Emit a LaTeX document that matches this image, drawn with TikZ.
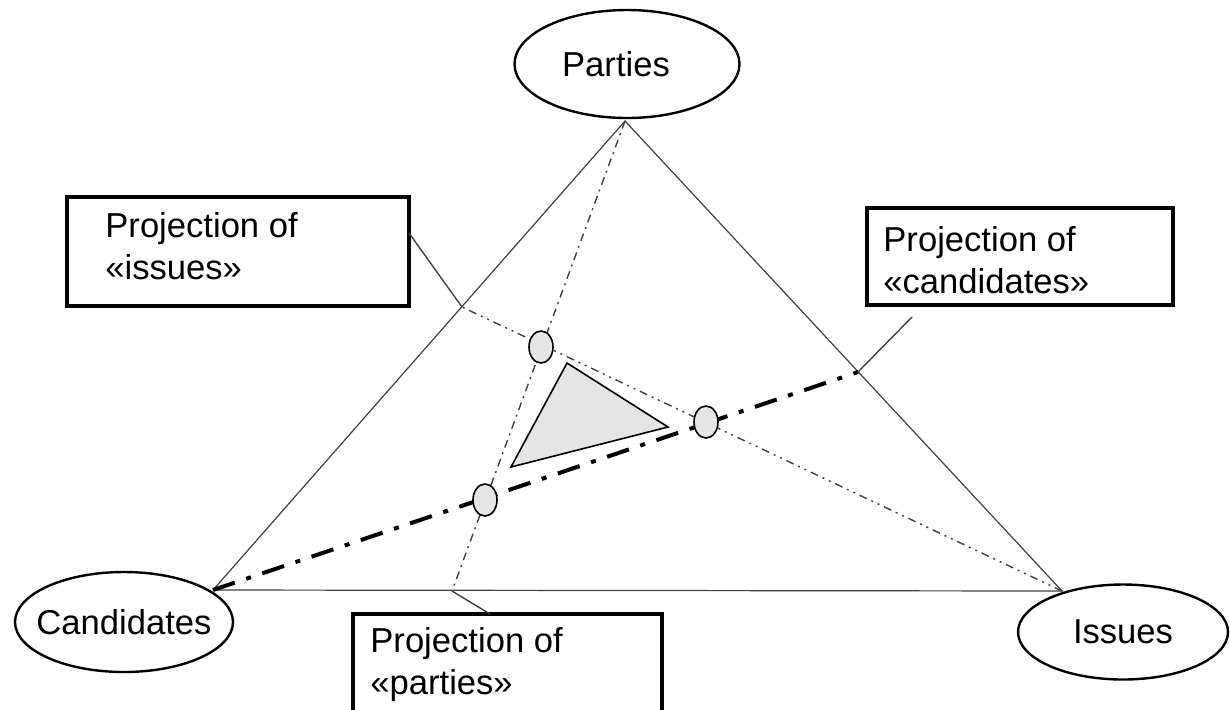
\documentclass[tikz,border=0pt]{standalone}
\usepackage{fontspec}
\setmainfont{Liberation Sans}
\usetikzlibrary{shapes.geometric}

\tikzset{
  actor/.style={ellipse, draw, line width=1.2pt, inner sep=-6pt, font=\fontsize{17.3}{21}\selectfont},
  projbox/.style={rectangle, draw, line width=1.6pt, inner sep=0pt},
  projtext/.style={anchor=north west, align=left, inner sep=0pt, font=\fontsize{17.3}{21}\selectfont},
  crossing/.style={ellipse, draw, line width=0.8pt, fill=gray!20, minimum width=12pt, minimum height=16pt, inner sep=0pt},
  edge/.style={black!75, line width=0.6pt},
  leader/.style={black!75, line width=0.7pt},
  projline/.style={black!75, line width=0.7pt, dash pattern=on 4pt off 2.5pt on 1pt off 2.5pt},
  projline2/.style={black!75, line width=0.7pt, dash pattern=on 4pt off 2.5pt on 1pt off 2.5pt on 1pt off 2.5pt},
  mainline/.style={black, line width=2pt, dash pattern=on 11.5pt off 6pt on 2.5pt off 6pt}
}

\begin{document}
\begin{tikzpicture}[x=0.5pt, y=-0.5pt]
  \useasboundingbox (0,0) rectangle (1230,709);
  \clip (0,0) rectangle (1230,709);

  % Ecken des Dreiecks
  \coordinate (ptop) at (625,121);
  \coordinate (pleft) at (213,590);
  \coordinate (pright) at (1062,591);

  % Fusspunkte der Projektionen
  \coordinate (footI) at (462,307);
  \coordinate (footC) at (858,372);
  \coordinate (footP) at (452,591);

  % Dreieck
  \draw[edge] (pleft) -- (ptop) -- (pright) -- (pleft);

  % Projektionslinien
  \draw[projline] (ptop) -- (footP);
  \draw[projline2] (pright) -- (footI);
  \draw[mainline] (pleft) -- (footC);

  % graues Dreieck
  \draw[fill=gray!20, line width=0.8pt] (567,363) -- (668,427) -- (511,467) -- cycle;

  % Schnittpunkte
  \node[crossing] (xa) at (541,347) {};
  \node[crossing] (xb) at (706,422) {};
  \node[crossing] (xc) at (485,500) {};

  % Ellipsen
  \node[actor, minimum width=112.5pt, minimum height=54pt] (parties) at (627,64) {Parties\kern11pt};
  \node[actor, minimum width=109pt, minimum height=50pt] (candidates) at (124,622) {Candidates};
  \node[actor, minimum width=105pt, minimum height=47.5pt] (issues) at (1123,632) {Issues};

  % Kaesten
  \node[projbox, minimum width=171pt, minimum height=54.5pt] (issuesbox) at (238,251.5) {};
  \node[projtext] (issuestext) at (105,212) {Projection of\\«issues»};
  \node[projbox, minimum width=153pt, minimum height=48.5pt] (candbox) at (1020,256.5) {};
  \node[projtext] (candtext) at (883,226) {Projection of\\«candidates»};
  \node[projbox, minimum width=154.5pt, minimum height=63pt] (partbox) at (507.5,677) {};
  \node[projtext] (parttext) at (370,627) {Projection of\\«parties»};

  % Hinweislinien
  \coordinate (issuesTip) at (409,233);
  \coordinate (candTip) at (912,317);
  \coordinate (partTip) at (490,614);
  \draw[leader] (issuesTip) -- (footI);
  \draw[leader] (candTip) -- (footC);
  \draw[leader] (footP) -- (partTip);
\end{tikzpicture}
\end{document}
